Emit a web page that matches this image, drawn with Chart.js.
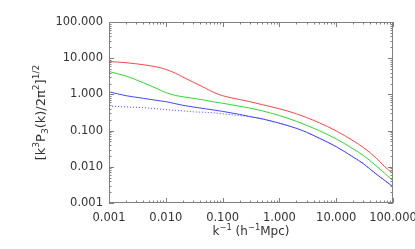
<!DOCTYPE html>
<html><head><meta charset="utf-8">
<script src="https://cdn.jsdelivr.net/npm/chart.js@4"></script>
<style>html,body{margin:0;padding:0;background:#fff}#wrap{width:415px;height:249px}</style>
</head><body><div id="wrap"><canvas id="c"></canvas></div>
<script>
const kInv = [0.001,0.002,0.004,0.007,0.01,0.015,0.02,0.03,0.05,0.07,0.1,0.2,0.3,0.5,1,2,3,5,10,20,30,50,70,100];
const redVals = [8.1,7.5,6.6,5.7,4.9,3.8,3.0,2.2,1.48,1.13,0.92,0.72,0.63,0.52,0.40,0.29,0.23,0.165,0.098,0.052,0.034,0.0178,0.0104,0.0065];
const greenVals = [4.3,3.2,2.1,1.45,1.12,0.93,0.86,0.78,0.69,0.62,0.57,0.47,0.42,0.35,0.26,0.18,0.14,0.10,0.059,0.031,0.0205,0.0108,0.0068,0.0041];
const blueVals = [1.18,0.92,0.78,0.68,0.63,0.55,0.50,0.45,0.40,0.37,0.34,0.28,0.245,0.21,0.16,0.115,0.090,0.062,0.036,0.0185,0.0122,0.0064,0.0043,0.0028];
const blueDotVals = [0.48,0.45,0.43,0.40,0.38,0.36,0.35,0.33,0.32,0.31,0.29,0.26,0.242,0.21,0.16,0.115,0.090,0.062,0.036,0.0185,0.0122,0.0064,0.0043,0.0028];
const tickVals = [0.001,0.01,0.1,1,10,100];

const toPts = ys => kInv.map((x,i)=>({x:x,y:ys[i]}));
const FONT = 'DejaVu Sans';

const frame = {
  id:'frame',
  afterDraw(chart){
    const {ctx, chartArea:a, scales:{x,y}} = chart;
    ctx.save();
    ctx.strokeStyle = '#808080';
    ctx.lineWidth = 1;
    ctx.strokeRect(Math.round(a.left)+0.5, Math.round(a.top)+0.5, Math.round(a.right-a.left)-1, Math.round(a.bottom-a.top)-1);
    ctx.beginPath();
    for (let d=-3; d<=2; d++) for (let m=1; m<=9; m++) {
      const v = m*Math.pow(10,d);
      if (v>100.0001) continue;
      const len = m===1?5:2.5;
      const px = Math.round(x.getPixelForValue(v))+0.5;
      ctx.moveTo(px,a.bottom); ctx.lineTo(px,a.bottom-len);
      ctx.moveTo(px,a.top); ctx.lineTo(px,a.top+len);
      const py = Math.round(y.getPixelForValue(v))+0.5;
      ctx.moveTo(a.left,py); ctx.lineTo(a.left+len,py);
      ctx.moveTo(a.right,py); ctx.lineTo(a.right-len,py);
    }
    ctx.stroke();
    const parts = (segs, size) => segs.map(s => ({t:s[0], k:s[1]||'n', f:(s[1]?size*0.7:size)}));
    function drawRich(segs, size, cx, cy, rot){
      ctx.save();
      ctx.translate(cx, cy);
      if (rot) ctx.rotate(rot);
      ctx.fillStyle = '#333';
      ctx.textBaseline = 'alphabetic';
      const ps = parts(segs,size);
      let w = 0;
      ps.forEach(p=>{ctx.font = p.f+'px "'+FONT+'"'; p.w = ctx.measureText(p.t).width; w += p.w;});
      let xx = -w/2;
      const base = size*0.36;
      ps.forEach(p=>{
        ctx.font = p.f+'px "'+FONT+'"';
        const off = p.k==='sup' ? -size*0.42 : (p.k==='sub' ? size*0.25 : 0);
        ctx.fillText(p.t, xx, base+off);
        xx += p.w;
      });
      ctx.restore();
    }
    drawRich([['k'],['−1','sup'],[' (h'],['−1','sup'],['Mpc)']], 12, (a.left+a.right)/2, 231, 0);
    drawRich([['[k'],['3','sup'],['P'],['3','sub'],['(k)/2π'],['2','sup'],[']'],['1/2','sup']], 13, 40, (a.top+a.bottom)/2, -Math.PI/2);
    ctx.restore();
  }
};

const axisCommon = {
  type:'logarithmic', min:0.001, max:100,
  grid:{display:false, drawTicks:false},
  border:{display:false},
  afterBuildTicks: s => { s.ticks = tickVals.map(v=>({value:v})); },
  ticks:{color:'#333', font:{family:FONT, size:11.5}, callback: v => Number(v).toFixed(3), autoSkip:false, maxRotation:0}
};

const ds = (vals, color, dash) => ({data:toPts(vals), borderColor:color, borderWidth:1, borderDash:dash||[], pointRadius:0, cubicInterpolationMode:'monotone', fill:false});

new Chart(document.getElementById('c'), {
  type:'line',
  data:{datasets:[
    ds(redVals,'rgb(255,70,70)'),
    ds(greenVals,'rgb(50,215,50)'),
    ds(blueVals,'rgb(70,70,255)'),
    ds(blueDotVals,'rgb(70,70,255)',[1,2])
  ]},
  options:{
    responsive:true, maintainAspectRatio:false, animation:false,
    layout:{padding:{top:22, right:22, left:0, bottom:0}},
    plugins:{legend:{display:false}, tooltip:{enabled:false}},
    scales:{
      x:Object.assign({}, axisCommon, {position:'bottom', ticks:Object.assign({}, axisCommon.ticks, {padding:8}),
        afterFit: s => { s.height = 46; s.paddingLeft = 0; s.paddingRight = 0; }}),
      y:Object.assign({}, axisCommon, {position:'left', ticks:Object.assign({}, axisCommon.ticks, {padding:6}),
        afterFit: s => { s.width = 109; s.paddingTop = 0; s.paddingBottom = 0; }})
    }
  },
  plugins:[frame]
});
</script></body></html>
